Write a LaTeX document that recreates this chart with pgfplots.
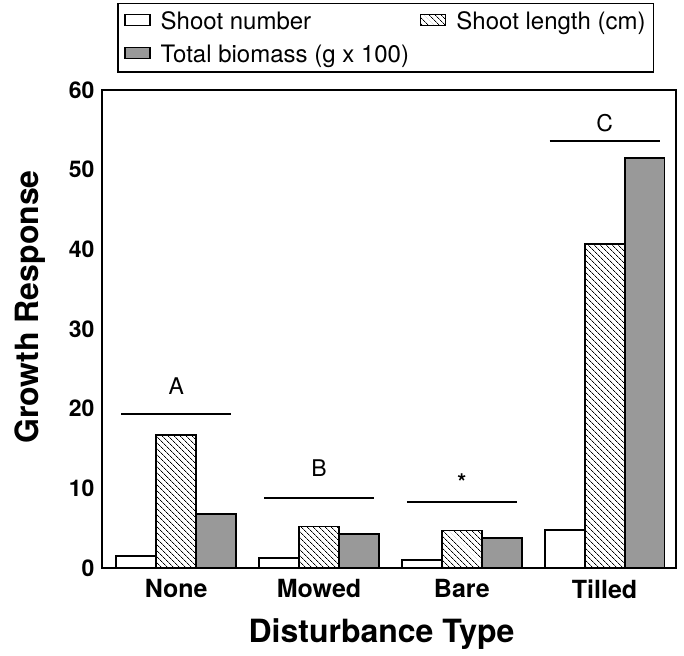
\documentclass[border=0pt]{standalone}
\usepackage{pgfplots}
\pgfplotsset{compat=1.18}
\usetikzlibrary{patterns.meta}
\usepackage{fontspec}
\setmainfont{TeX Gyre Heros}

\pgfplotstableread{
x number length biomass
0 1.5 16.7 6.8
1 1.3 5.2 4.3
2 1.0 4.7 3.8
3 4.8 40.7 51.5
}\growth

\begin{document}
\begin{tikzpicture}
\begin{axis}[
    name=ax,
    scale only axis,
    width=574pt, height=478pt,
    ybar=0pt, bar width=0.28,
    xmin=-0.52, xmax=3.5,
    ymin=0, ymax=60,
    xtick=data,
    xticklabels={None, Mowed, Bare, Tilled},
    ytick={0,10,...,60},
    major tick length=0pt,
    axis line style={line width=2.6pt},
    /pgf/number format/assume math mode=true,
    yticklabel style={font=\fontsize{23}{26}\selectfont\bfseries, xshift=-4pt},
    xticklabel style={font=\fontsize{25}{28}\selectfont\bfseries, yshift=-8pt},
    xlabel={Disturbance Type},
    ylabel={Growth Response},
    label style={font=\fontsize{32}{35}\selectfont\bfseries},
    xlabel style={at={(axis description cs:0.487,-0.155)}, anchor=base},
    ylabel style={at={(axis description cs:-0.125,0.546)}, anchor=center},
    legend columns=2,
    legend style={at={(axis description cs:0.027,1.036)}, anchor=south west,
        font=\fontsize{24}{27}\selectfont, line width=1.6pt,
        nodes={inner sep=2pt},
        inner xsep=6pt, inner ysep=6pt, row sep=10pt,
        /tikz/every odd column/.append style={column sep=8pt},
        /tikz/every even column/.append style={column sep=9pt}},
    legend cell align=left,
    legend image code/.code={
        \draw[#1, line width=1.4pt] (0pt,-4pt) rectangle (25pt,7pt);},
]
\addplot[draw=black, line width=1.8pt, fill=white, bar shift=-0.28]
    table[x=x, y=number] {\growth};
\addlegendentry{Shoot number}
\addplot[draw=black, line width=1.8pt, fill=white,
    postaction={pattern={Lines[angle=-45, distance=4pt, line width=0.8pt]}},
    bar shift=0]
    table[x=x, y=length] {\growth};
\addlegendentry{Shoot length (cm)}
\addplot[draw=black, line width=1.8pt, fill=black!40, bar shift=0.28]
    table[x=x, y=biomass] {\growth};
\addlegendentry{Total biomass (g x 100)}

\draw[line width=2.2pt] (axis cs:-0.385,19.3) -- (axis cs:0.385,19.3);
\draw[line width=2.2pt] (axis cs:0.615,8.8) -- (axis cs:1.385,8.8);
\draw[line width=2.2pt] (axis cs:1.615,8.3) -- (axis cs:2.385,8.3);
\draw[line width=2.2pt] (axis cs:2.615,53.6) -- (axis cs:3.385,53.6);
\node[font=\fontsize{23}{26}\selectfont] at (axis cs:0,22.8) {A};
\node[font=\fontsize{23}{26}\selectfont] at (axis cs:1,12.5) {B};
\node[font=\fontsize{23}{26}\selectfont\bfseries] at (axis cs:2,10.8) {*};
\node[font=\fontsize{23}{26}\selectfont] at (axis cs:3,55.8) {C};
\end{axis}
\path ([shift={(-102pt,-87pt)}]ax.south west) rectangle ([shift={(8pt,90pt)}]ax.north east);
\end{tikzpicture}
\end{document}
